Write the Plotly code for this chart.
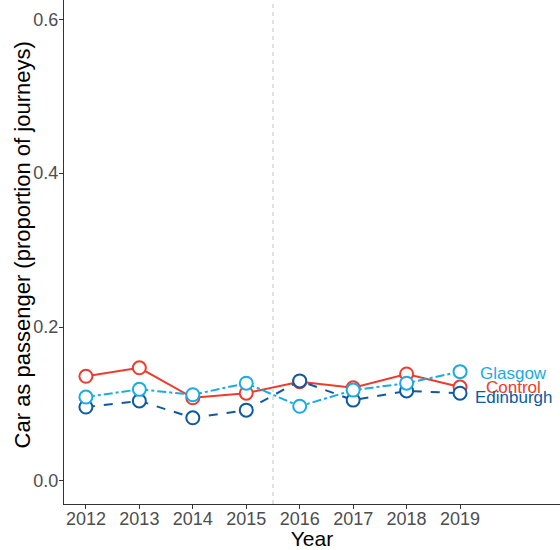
import plotly.graph_objects as go

years = [2012, 2013, 2014, 2015, 2016, 2017, 2018, 2019]
control = [0.136, 0.147, 0.108, 0.114, 0.129, 0.121, 0.139, 0.122]
glasgow = [0.109, 0.119, 0.112, 0.127, 0.097, 0.118, 0.127, 0.142]
edinburgh = [0.096, 0.104, 0.082, 0.092, 0.130, 0.105, 0.117, 0.114]
series_names = ["Control", "Edinburgh", "Glasgow"]
label_y = {"Glasgow": 0.140, "Control": 0.122, "Edinburgh": 0.108}
y_ticks = [0.0, 0.2, 0.4, 0.6]

colors = {"Control": "#EE3B2E", "Glasgow": "#1AAAE6", "Edinburgh": "#0E5AA0"}
dashes = {"Control": "solid", "Glasgow": "dashdot", "Edinburgh": "dash"}
data = {"Control": control, "Glasgow": glasgow, "Edinburgh": edinburgh}

FONT = "Liberation Sans, Arial"

fig = go.Figure()
for name in series_names:
    fig.add_trace(go.Scatter(
        x=years, y=data[name], mode="lines+markers", name=name,
        line=dict(color=colors[name], width=2, dash=dashes[name]),
        marker=dict(symbol="circle", size=13, color="white",
                    line=dict(color=colors[name], width=2)),
        showlegend=False,
    ))
    fig.add_annotation(x=2020, y=label_y[name], text=name, showarrow=False,
                       xanchor="center", yanchor="middle",
                       font=dict(family=FONT, size=17, color=colors[name]))

fig.add_vline(x=2015.5, line=dict(color="#C4C4C4", width=1, dash="4px,4px"))

# y-axis title as a rotated annotation placed in the left margin
fig.add_annotation(xref="paper", yref="paper", x=-0.0847, y=0.515,
                   text="Car as passenger (proportion of journeys)", showarrow=False,
                   textangle=-90, xanchor="center", yanchor="middle",
                   font=dict(family=FONT, size=22, color="black"))

fig.update_layout(
    width=560, height=550,
    margin=dict(l=64, r=0, t=0, b=46),
    plot_bgcolor="white", paper_bgcolor="white",
    font=dict(family=FONT, size=18, color="#4D4D4D"),
)
fig.update_xaxes(
    range=[2011.59, 2020.87], tickvals=years, ticktext=[str(y) for y in years],
    showgrid=False, zeroline=False, showline=True, linecolor="#333333", linewidth=1,
    ticks="outside", ticklen=4, tickcolor="#333333", automargin=False,
    ticklabelstandoff=-6,
    tickfont=dict(family=FONT, size=18, color="#4D4D4D"),
    title=dict(text="Year", font=dict(family=FONT, size=21, color="black"), standoff=0),
)
fig.update_yaxes(
    range=[-0.030, 0.625], tickvals=y_ticks, ticktext=["0.0", "0.2", "0.4", "0.6"],
    showgrid=False, zeroline=False, showline=True, linecolor="#333333", linewidth=1,
    ticks="outside", ticklen=4, tickcolor="#333333", automargin=False,
    ticklabelstandoff=-3,
    tickfont=dict(family=FONT, size=18, color="#4D4D4D"),
)

fig.write_html("out.html", config={"displayModeBar": False},
               post_script="document.body.style.margin='0';")
